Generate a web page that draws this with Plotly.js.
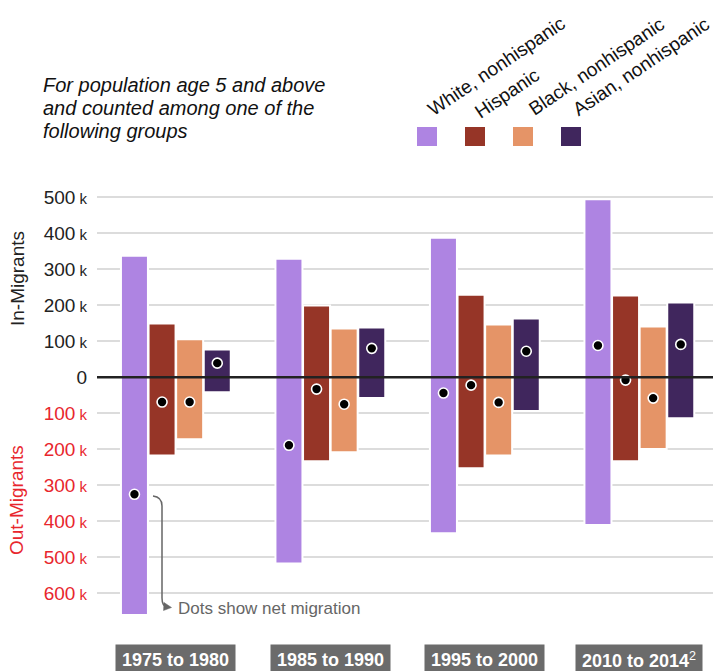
<!DOCTYPE html>
<html>
<head>
<meta charset="utf-8">
<script src="https://cdn.plot.ly/plotly-3.0.1.min.js"></script>
<style>
  html, body { margin: 0; padding: 0; background: #fff; }
  #chart { width: 713px; height: 671px; }
</style>
</head>
<body>
<div id="chart"></div>
<script>
// ---------------- DATA (thousands of people) ----------------
const groups = ['1975 to 1980', '1985 to 1990', '1995 to 2000', '2010 to 2014'];
const groupLabels = ['<b>1975 to 1980</b>', '<b>1985 to 1990</b>', '<b>1995 to 2000</b>', '<b>2010 to 2014</b><sup>2</sup>'];
const seriesNames = ['White, nonhispanic', 'Hispanic', 'Black, nonhispanic', 'Asian, nonhispanic'];
const seriesColors = ['#ae84e2', '#963527', '#e59467', '#40265d'];

const inWhite    = [337, 329, 387, 494];
const inHispanic = [149, 199, 229, 227];
const inBlack    = [105, 135, 146, 141];
const inAsian    = [77, 138, 163, 207];

const outWhite    = [660, 517, 433, 410];
const outHispanic = [217, 233, 253, 233];
const outBlack    = [172, 208, 217, 199];
const outAsian    = [42, 58, 94, 114];

const netWhite    = [-325, -189, -44, 88];
const netHispanic = [-69, -33, -22, -8];
const netBlack    = [-69, -75, -70, -58];
const netAsian    = [39, 80, 72, 91];

const tickVals   = [500, 400, 300, 200, 100, 0, -100, -200, -300, -400, -500, -600];
const tickLabels = ['500', '400', '300', '200', '100', '0', '100', '200', '300', '400', '500', '600'];

const subtitleLines = ['For population age 5 and above', 'and counted among one of the', 'following groups'];
const netNote = 'Dots show net migration';

// ---------------- LAYOUT GEOMETRY ----------------
const W = 713, H = 671, ML = 97, MR = 0, MT = 160, MB = 41;
const PW = W - ML - MR, PH = H - MT - MB;
const XR = [-0.5104, 3.4767];
const YR = [-701.6, 602.8];
const FONT = '"Liberation Sans", Arial, Helvetica, sans-serif';
const RED = '#e8262d';
const offsets = [-0.268, -0.0893, 0.0893, 0.268];
const barWidth = 0.1748;

const px2paperX = px => (px - ML) / PW;
const py2paperY = py => (H - MB - py) / PH;
const px2x = px => XR[0] + (px - ML) / PW * (XR[1] - XR[0]);
const py2y = py => YR[1] - (py - MT) / PH * (YR[1] - YR[0]);

const inData = [inWhite, inHispanic, inBlack, inAsian];
const outData = [outWhite, outHispanic, outBlack, outAsian];
const netData = [netWhite, netHispanic, netBlack, netAsian];

const traces = [];
seriesNames.forEach((name, j) => {
  traces.push({
    type: 'bar',
    name: name,
    x: groups.map((g, i) => i + offsets[j]),
    y: inData[j].map((v, i) => v + outData[j][i]),
    base: outData[j].map(v => -v),
    width: barWidth,
    marker: { color: seriesColors[j], line: { color: '#ffffff', width: 2 } },
    hoverinfo: 'skip',
    showlegend: false
  });
});
seriesNames.forEach((name, j) => {
  traces.push({
    type: 'scatter',
    mode: 'markers',
    x: groups.map((g, i) => i + offsets[j]),
    y: netData[j],
    marker: { color: '#000', size: 10, line: { color: '#fff', width: 1.6 } },
    hoverinfo: 'skip',
    showlegend: false,
    cliponaxis: false
  });
});

const tickText = tickVals.map((v, i) => {
  if (v === 0) return tickLabels[i];
  if (v > 0) return tickLabels[i] + '<span style="font-size:15px"> k</span>';
  return '<span style="color:' + RED + '">' + tickLabels[i] + '</span><span style="color:' + RED + ';font-size:15px"> k</span>';
});

const annotations = [];
// category labels
groupLabels.forEach((t, i) => {
  annotations.push({
    xref: 'x', yref: 'paper', x: i, y: py2paperY(660),
    xanchor: 'center', yanchor: 'middle',
    text: t, showarrow: false, height: 18,
    font: { family: FONT, size: 18, color: '#ffffff' },
    bgcolor: '#6b6b6b', borderpad: 6
  });
});
// legend labels (rotated)
const legendCenters = [[496, 66], [507, 94], [596, 66], [641, 66]];
seriesNames.forEach((name, j) => {
  annotations.push({
    xref: 'paper', yref: 'paper',
    x: px2paperX(legendCenters[j][0]), y: py2paperY(legendCenters[j][1]),
    xanchor: 'center', yanchor: 'middle',
    text: name, textangle: -34, showarrow: false,
    font: { family: FONT, size: 19, color: '#111' }
  });
});
// subtitle (one annotation per line)
const subtitleY = [85, 108, 131];
subtitleLines.forEach((line, k) => {
  annotations.push({
    xref: 'paper', yref: 'paper', x: px2paperX(41), y: py2paperY(subtitleY[k]),
    xanchor: 'left', yanchor: 'middle', align: 'left',
    text: '<i>' + line + '</i>', showarrow: false,
    font: { family: FONT, size: 20, color: '#111' }
  });
});
// axis titles
annotations.push({
  xref: 'paper', yref: 'paper', x: px2paperX(17), y: py2paperY(279),
  xanchor: 'center', yanchor: 'middle', textangle: -90,
  text: 'In-Migrants', showarrow: false,
  font: { family: FONT, size: 19, color: '#222' }
});
annotations.push({
  xref: 'paper', yref: 'paper', x: px2paperX(17), y: py2paperY(500),
  xanchor: 'center', yanchor: 'middle', textangle: -90,
  text: 'Out-Migrants', showarrow: false,
  font: { family: FONT, size: 19, color: RED }
});
// net note
annotations.push({
  xref: 'paper', yref: 'paper', x: px2paperX(176), y: py2paperY(608),
  xanchor: 'left', yanchor: 'middle',
  text: netNote, showarrow: false,
  font: { family: FONT, size: 17, color: '#666' }
});

const P = (px, py) => px2x(px) + ',' + py2y(py);
const shapes = [
  // zero line above bars
  { type: 'line', xref: 'paper', yref: 'y', x0: 0, x1: 1, y0: 0, y1: 0,
    line: { color: '#222', width: 2.5 }, layer: 'above' },
  // curved arrow
  { type: 'path', xref: 'x', yref: 'y', layer: 'above',
    path: 'M' + P(153, 496) + ' Q' + P(162, 497) + ' ' + P(162, 506) + ' L' + P(162, 598) + ' Q' + P(162, 606) + ' ' + P(167, 607),
    line: { color: '#666', width: 1.5 } },
  { type: 'path', xref: 'x', yref: 'y', layer: 'above',
    path: 'M' + P(164, 602.5) + ' L' + P(171.5, 607.5) + ' L' + P(163.5, 610.5) + ' Z',
    fillcolor: '#666', line: { color: '#666', width: 0.5 } }
];
// legend swatches
seriesColors.forEach((c, j) => {
  const x0 = 417 + 48 * j;
  shapes.push({
    type: 'rect', xref: 'paper', yref: 'paper',
    x0: px2paperX(x0), x1: px2paperX(x0 + 20), y0: py2paperY(146), y1: py2paperY(127),
    fillcolor: c, line: { width: 0 }
  });
});

const layout = {
  width: W, height: H,
  margin: { l: ML, r: MR, t: MT, b: MB, pad: 0 },
  paper_bgcolor: '#fff', plot_bgcolor: '#fff',
  font: { family: FONT, size: 19, color: '#222' },
  barmode: 'overlay',
  showlegend: false,
  xaxis: {
    range: XR, showgrid: false, zeroline: false, showticklabels: false,
    ticks: '', showline: false, fixedrange: true
  },
  yaxis: {
    range: YR, tickmode: 'array', tickvals: tickVals, ticktext: tickText,
    showgrid: true, gridcolor: '#dcdcdc', gridwidth: 2,
    zeroline: false, ticks: '', showline: false, ticklabelstandoff: 9,
    tickfont: { family: FONT, size: 19, color: '#222' }, fixedrange: true
  },
  annotations: annotations,
  shapes: shapes
};

Plotly.newPlot('chart', traces, layout, { displayModeBar: false, staticPlot: true });
</script>
</body>
</html>
